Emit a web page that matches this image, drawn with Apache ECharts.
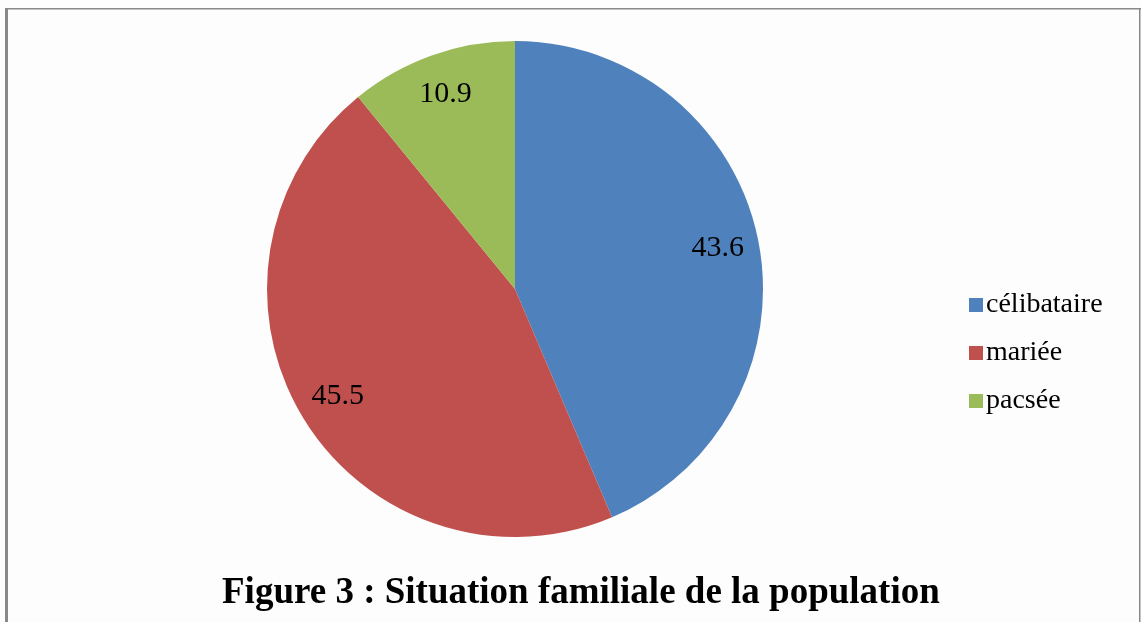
<!DOCTYPE html>
<html>
<head>
<meta charset="utf-8">
<script src="https://cdn.jsdelivr.net/npm/echarts@6/dist/echarts.min.js"></script>
<style>
  html, body { margin: 0; padding: 0; background: #fdfdfd; }
  #chart { width: 1141px; height: 622px; }
</style>
</head>
<body>
<div id="chart"></div>
<script>
let chart = document.getElementById('chart');

var categories = ['célibataire', 'mariée', 'pacsée'];
var values = [43.6, 45.5, 10.9];
var colors = ['#4F81BD', '#C0504D', '#9BBB59'];

var pieData = [];
for (var i = 0; i < categories.length; i++) {
    pieData.push({ name: categories[i], value: values[i], itemStyle: { color: colors[i] } });
}

option = {
    animation: false,
    backgroundColor: '#fdfdfd',
    title: {
        text: 'Figure 3 : Situation familiale de la population',
        left: 222,
        top: 575,
        padding: 0,
        textStyle: {
            fontFamily: 'Liberation Serif',
            fontWeight: 'bold',
            fontSize: 37,
            color: '#000'
        }
    },
    legend: {
        orient: 'vertical',
        left: 964,
        top: 286,
        itemWidth: 14,
        itemHeight: 14,
        itemGap: 20,
        icon: 'rect',
        textStyle: {
            fontFamily: 'Liberation Serif',
            fontSize: 28,
            color: '#000',
            padding: [0, 0, 0, -2]
        },
        data: categories
    },
    graphic: [
        { type: 'rect', shape: { x: 5, y: 8, width: 3, height: 614 }, style: { fill: '#888' } },
        { type: 'rect', shape: { x: 5, y: 8, width: 1136, height: 1.5 }, style: { fill: '#888' } },
        { type: 'rect', shape: { x: 1139, y: 8, width: 1.5, height: 614 }, style: { fill: '#888' } }
    ],
    series: [
        {
            name: 'pie',
            type: 'pie',
            center: [515, 289],
            radius: 248,
            startAngle: 90,
            clockwise: true,
            label: { show: false },
            labelLine: { show: false },
            silent: true,
            data: pieData
        },
        {
            name: 'labels',
            type: 'pie',
            center: [515, 289],
            radius: [160, 248],
            startAngle: 90,
            clockwise: true,
            silent: true,
            legendHoverLink: false,
            itemStyle: { color: 'transparent' },
            label: {
                show: true,
                position: 'inside',
                formatter: '{c}',
                fontFamily: 'Liberation Serif',
                fontSize: 30,
                color: '#000'
            },
            labelLine: { show: false },
            data: categories.map(function (c, i) {
                return { name: c + ' ', value: values[i] };
            })
        }
    ]
};

echarts.init(chart).setOption(option, true);
</script>
</body>
</html>
